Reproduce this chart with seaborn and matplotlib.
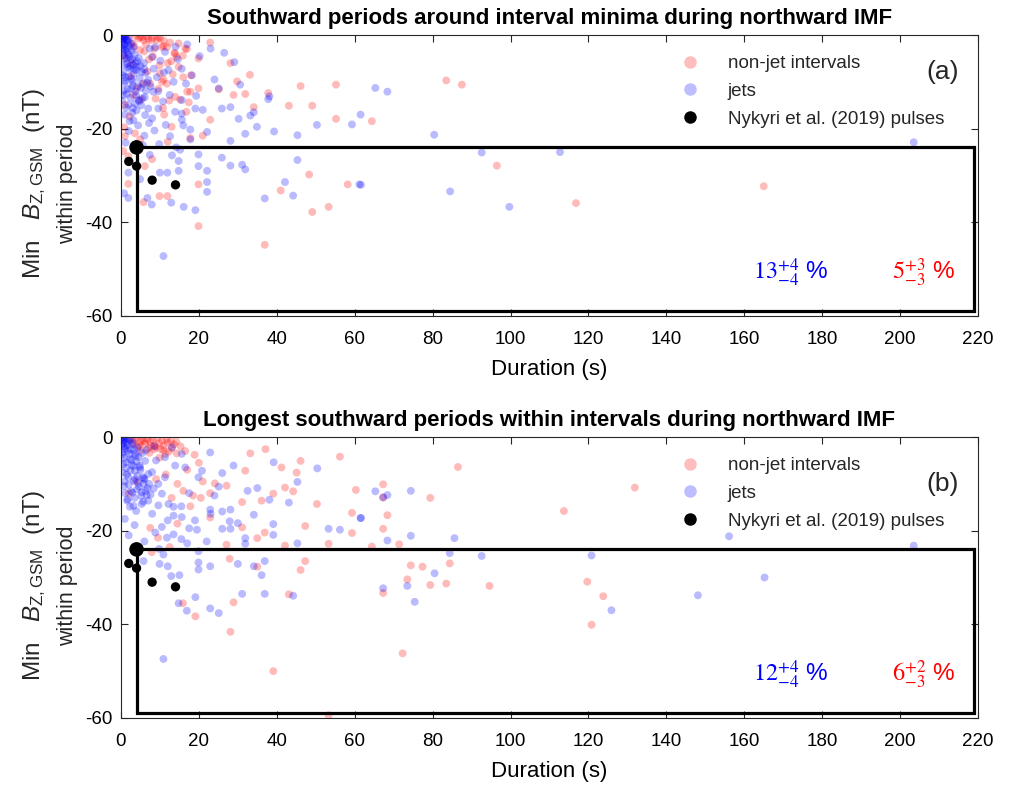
import matplotlib
matplotlib.use("Agg")
import matplotlib.pyplot as plt
from matplotlib.lines import Line2D
import numpy as np
import pandas as pd
import seaborn as sns

# ---------------------------------------------------------------- data
# Panel (a): southward periods around interval minima
a_jet_dur = [0.3, 0.6, 1.0, 1.3, 0.5, 1.8, 0.9, 2.2, 1.4, 0.4, 2.8, 1.9, 3.5, 0.8, 2.5, 4.2, 1.6, 3.1, 5.0, 5.9,
             2.3, 4.0, 0.6, 3.3, 6.3, 1.2, 2.7, 4.8, 7.0, 0.9, 3.0, 5.6, 1.7, 3.7, 6.4, 0.5, 2.4, 4.5, 3.6, 5.2,
             7.0, 1.3, 2.9, 8.0, 7.4, 9.2, 8.4, 10.1, 11.0, 12.2, 9.6, 8.8, 11.3, 13.5, 15.6, 18.2, 15.6, 13.9, 9.6, 8.0,
             6.2, 19.1, 23.0, 25.1, 12.5, 10.8, 14.6, 16.7, 4.4, 2.0, 6.0, 1.2, 3.2, 5.6, 8.6, 11.5, 12.6, 16.0, 14.2, 9.8,
             7.4, 29.1, 30.6, 37.8, 38.1, 34.1, 28.1, 25.9, 30.2, 34.9, 39.3, 45.3, 50.3, 59.3, 61.5, 31.9, 28.1, 22.1, 19.9, 22.1,
             22.1, 22.1, 28.1, 31.1, 31.9, 25.9, 45.3, 42.1, 44.2, 36.9, 61.2, 19.1, 16.1, 10.9, 12.9, 7.9, 6.8, 1.9, 0.8, 19.9,
             14.8, 11.9, 10.0, 4.9, 1.9, 14.8, 13.1, 15.2, 17.8, 17.8, 15.6, 15.6, 33.2, 21.0, 19.3, 24.0, 20.2, 17.0, 26.5, 14.0,
             65.3, 68.4, 80.4, 92.6, 112.7, 61.6, 84.5, 99.7, 203.5]
a_jet_min = [-0.2, -0.5, -0.3, -0.8, -1.2, -1.5, -2.0, -2.3, -3.0, -3.5, -3.3, -4.1, -4.2, -5.0, -5.4, -5.6, -6.1, -6.4, -6.6, -6.0,
             -7.2, -7.5, -8.0, -8.3, -8.1, -9.0, -9.4, -9.2, -9.6, -10.3, -10.8, -10.5, -11.6, -12.1, -11.9, -12.8, -13.4, -13.9, -14.6, -15.0,
             -15.7, -15.5, -16.6, -4.7, -2.9, -9.0, -7.2, -5.5, -8.0, -7.5, -12.0, -2.6, -3.6, -10.0, -7.2, -8.6, -13.9, -16.4, -15.7, -17.8,
             -17.1, -15.7, -2.9, -11.4, -12.8, -14.2, -5.2, -10.4, -19.3, -20.5, -21.5, -23.0, -18.2, -23.5, -20.4, -19.2, -21.6, -19.3, -24.0, -23.3,
             -25.6, -5.8, -10.6, -13.7, -13.1, -16.5, -15.4, -15.7, -17.9, -19.6, -20.6, -21.4, -19.2, -19.1, -17.0, -21.1, -22.6, -20.7, -25.5, -29.0,
             -31.4, -33.5, -27.9, -27.7, -28.7, -26.2, -26.7, -31.4, -34.3, -34.9, -31.9, -37.4, -36.7, -47.2, -35.8, -36.2, -34.8, -34.8, -33.8, -28.0,
             -29.0, -29.4, -29.4, -30.8, -29.4, -26.9, -25.7, -24.5, -22.3, -20.2, -18.1, -16.8, -17.2, -16.0, -13.0, -9.5, -4.5, -2.0, -3.8, -2.5,
             -11.3, -12.1, -21.3, -25.1, -25.0, -32.0, -33.4, -36.7, -22.9]
# short, weak jet periods crowding the origin
a_jet_dur_core = [0.2, 0.4, 0.7, 1.1, 1.5, 0.3, 0.8, 1.2, 2.0, 2.6, 0.5, 1.0, 1.7, 3.2, 2.1, 0.6, 1.4, 2.9, 3.8, 4.6,
                  0.9, 1.8, 2.4, 3.4, 4.1, 5.3, 6.0, 0.4, 1.1, 2.0, 3.0, 4.4, 5.1, 6.7, 7.6, 0.7, 1.5, 2.6, 3.9, 5.5,
                  0.3, 1.9, 3.1, 4.7, 6.1, 8.3, 1.0, 2.2, 4.0, 7.2]
a_jet_min_core = [-0.1, -0.6, -0.9, -0.4, -1.1, -1.6, -1.9, -2.4, -1.0, -1.8, -2.8, -3.2, -3.7, -2.6, -4.6, -4.3, -5.0, -5.1, -5.9, -4.9,
                  -6.4, -6.9, -6.6, -7.4, -6.8, -7.9, -7.3, -8.6, -9.8, -8.9, -9.9, -10.9, -11.3, -10.2, -11.0, -11.9, -12.6, -11.4, -12.9, -13.5,
                  -14.0, -14.9, -15.6, -14.1, -13.3, -12.1, -17.0, -18.4, -16.1, -18.8]

a_non_dur = [4.9, 7.0, 9.2, 10.5, 11.8, 13.9, 14.3, 16.5, 19.9, 10.5, 11.8, 9.6, 7.5, 17.0, 19.9, 13.9, 12.4, 5.8, 10.0, 4.5,
             13.7, 10.9, 10.0, 14.8, 15.2, 10.9, 4.9, 7.9, 1.0, 2.8, 5.8, 4.1, 1.0, 3.2, 0.6, 1.9, 4.9, 2.0, 3.0, 6.4,
             8.2, 12.0, 6.8, 8.9, 2.2, 0.8, 3.6, 11.1, 13.0, 12.0, 8.0, 6.1, 18.0, 16.0,
             22.9, 16.9, 28.1, 33.1, 29.8, 25.1, 28.9, 31.9, 37.8, 46.1, 55.2, 43.1, 49.1, 34.1, 22.9, 55.2, 64.4, 17.4, 17.8, 21.0,
             17.8, 48.3, 41.0, 58.2, 49.1, 53.3, 19.9, 19.9, 36.9, 9.9, 11.9, 5.8, 1.9, 1.0,
             83.5, 87.5, 96.5, 116.8, 165.0,
             3.8, 5.4, 6.6, 8.0, 9.5, 11.0, 12.6, 14.8, 6.0, 8.6, 12.9, 15.9, 3.4, 7.2, 9.9, 13.3, 2.5, 5.1, 10.8, 16.8]
a_non_min = [-0.4, -0.8, -1.1, -2.6, -2.6, -4.0, -4.7, -2.9, -5.0, -10.0, -10.4, -11.5, -10.4, -12.1, -11.4, -13.2, -14.0, -1.1, -0.7, -0.7,
             -3.8, -2.3, -8.2, -6.8, -13.8, -9.5, -3.2, -1.1, -4.6, -6.0, -10.3, -11.3, -14.9, -12.8, -24.8, -25.9, -22.3, -0.3, -1.8, -2.0,
             -4.6, -6.0, -7.8, -13.6, -17.4, -19.7, -21.0, -17.0, -19.6, -22.8, -26.5, -28.0, -8.6, -9.0,
             -1.6, -3.0, -6.0, -8.5, -9.9, -11.6, -12.8, -12.6, -12.4, -10.9, -10.6, -15.1, -15.1, -15.4, -18.1, -17.9, -18.4, -14.4, -12.1, -21.5,
             -22.0, -29.8, -33.2, -31.9, -37.8, -36.7, -31.9, -40.8, -44.8, -34.4, -34.4, -35.7, -31.8, -21.6,
             -9.7, -10.6, -27.9, -35.9, -32.3,
             -0.2, -0.5, -0.3, -0.6, -0.4, -1.2, -1.6, -1.8, -3.5, -2.9, -5.6, -4.4, -2.4, -5.2, -6.5, -8.4, -8.8, -13.8, -15.6, -16.4]

# Panel (b): longest southward periods within intervals
b_jet_dur = [0.3, 0.6, 1.9, 1.2, 2.8, 1.0, 0.4, 3.6, 2.3, 4.5, 6.2, 4.9, 3.6, 7.0, 5.8, 5.3, 8.0, 1.9, 2.8, 1.3,
             3.3, 4.3, 6.5, 5.6, 6.6, 2.6, 0.8, 1.6,
             11.3, 13.1, 15.6, 16.5, 13.9, 11.3, 9.6, 10.5, 12.2, 9.6, 7.0, 5.3, 3.2, 8.0, 20.8, 19.9, 23.0, 13.5, 15.6, 17.5, 9.0, 8.5,
             22.9, 50.4, 39.2, 28.9, 26.0, 25.1, 45.3, 35.0, 38.1, 43.1, 45.3, 39.1, 39.1, 31.9, 31.9, 34.1, 28.1, 26.0, 30.0, 27.9,
             28.1, 26.0, 22.9, 53.3, 56.2, 61.5, 36.9, 36.1, 34.1, 30.0, 36.9, 44.2, 31.1, 25.1, 22.9, 19.1, 16.9, 14.8, 10.9, 19.9,
             19.9, 22.9, 15.0, 12.9, 9.9, 5.8, 12.0, 10.9, 9.8, 19.9, 17.0, 15.5, 13.5, 11.8, 17.5, 19.5, 19.0, 15.5, 13.5, 12.0,
             10.5, 8.8, 6.0, 4.0, 2.0, 1.0, 3.5, 22.0, 24.0, 32.5,
             65.3, 68.4, 67.3, 74.4, 61.6, 68.4, 74.4, 85.6, 84.4, 92.6, 120.8, 80.5, 73.5, 67.3, 75.4, 125.9, 156.1, 203.5, 165.2, 148.1]
b_jet_min = [-0.3, -0.8, -0.4, -1.2, -1.5, -2.6, -3.3, -3.6, -4.7, -4.3, -5.1, -6.5, -7.2, -7.9, -10.0, -11.8, -7.5, -8.6, -6.0, -5.4,
             -9.4, -2.3, -2.8, -8.6, -12.4, -11.6, -10.5, -13.6,
             -4.3, -2.2, -3.6, -6.5, -6.1, -8.6, -10.0, -12.1, -14.3, -14.6, -13.6, -14.3, -14.7, -16.4, -7.2, -8.6, -16.4, -16.8, -17.1, -12.0, -5.0, -2.0,
             -3.3, -6.7, -5.4, -6.1, -7.7, -10.6, -9.6, -10.9, -13.4, -14.0, -22.7, -18.6, -20.9, -21.6, -22.8, -16.6, -15.5, -15.9, -18.4, -18.0,
             -19.6, -19.6, -15.5, -19.6, -19.8, -17.3, -26.5, -29.5, -27.6, -27.1, -33.5, -33.9, -33.5, -37.6, -36.6, -34.2, -37.1, -35.5, -47.4, -28.3,
             -26.8, -27.6, -29.5, -29.7, -27.1, -26.5, -27.6, -25.1, -23.9, -24.4, -22.7, -21.8, -20.8, -21.5, -19.5, -19.8, -17.8, -14.8, -14.9, -17.8,
             -19.2, -20.4, -22.3, -24.5, -21.0, -17.5, -18.8, -22.3, -12.5, -11.5,
             -11.6, -12.4, -12.9, -11.5, -17.3, -22.1, -21.1, -21.6, -24.8, -25.4, -25.3, -29.1, -31.8, -32.3, -35.2, -37.0, -21.2, -23.2, -30.0, -33.8]
b_jet_dur_core = [0.2, 0.5, 0.9, 1.4, 2.1, 0.3, 0.7, 1.1, 1.6, 2.5, 3.0, 0.4, 0.8, 1.8, 2.2, 3.4, 4.0, 0.6, 1.3, 2.7,
                  3.8, 4.8, 5.5, 0.5, 1.5, 2.4, 3.2, 4.2, 5.0, 6.0, 0.9, 2.0, 3.6, 4.6, 5.9, 7.2, 1.1, 2.9, 4.1, 5.2,
                  6.8, 7.6, 1.7, 3.5, 4.4, 6.3, 2.3, 3.9, 5.7, 8.4]
b_jet_min_core = [-0.1, -0.2, -0.6, -0.3, -0.7, -1.5, -1.9, -2.2, -1.7, -2.6, -1.1, -3.8, -4.4, -3.0, -3.6, -2.7, -5.2, -5.8, -6.6, -4.9,
                  -4.0, -6.1, -3.4, -7.6, -8.0, -7.2, -6.2, -8.3, -7.0, -9.1, -9.5, -10.2, -9.0, -10.6, -8.8, -10.0, -12.0, -11.9, -11.2, -12.6,
                  -10.9, -12.3, -13.3, -13.0, -9.8, -11.5, -14.9, -15.8, -13.8, -11.0]

b_non_dur = [3.5, 5.0, 6.2, 7.5, 8.7, 9.8, 11.0, 12.0, 7.0, 4.4, 10.2, 13.0,
             37.1, 33.2, 46.1, 41.2, 45.1, 31.9, 44.2, 42.1, 39.1, 36.1, 31.1, 27.1, 24.1, 22.9, 21.0, 22.9, 31.1, 36.9,
             35.0, 27.1, 42.1, 47.3, 50.3, 53.3, 56.2, 60.3, 59.3, 59.3, 18.9, 19.1, 28.1, 39.1, 28.9, 43.1, 47.3, 46.1, 35.0, 27.9,
             15.9, 7.9, 7.5,
             14.3, 16.5, 20.0, 17.0, 14.5, 16.0, 18.5, 20.5, 17.8, 11.5, 9.0, 13.0, 9.5, 12.5, 14.5, 4.0, 2.0,
             86.5, 67.3, 67.3, 79.4, 68.4, 67.3, 64.4, 71.4, 113.7, 131.9, 74.4, 77.4, 84.4, 73.5, 79.4, 83.5, 94.6, 67.3, 72.3, 119.7,
             123.8, 120.8, 53.3,
             2.6, 4.0, 5.5, 6.8, 8.1, 9.3, 10.6, 11.7, 12.8, 13.6, 3.1, 4.8, 6.0, 7.7, 9.0, 10.9, 12.3, 5.2, 7.3, 8.5,
             11.4, 14.2, 15.3, 9.9]
b_non_min = [-0.6, -1.0, -1.4, -1.0, -1.8, -1.3, -1.9, -1.2, -2.4, -2.0, -2.6, -2.4,
             -2.6, -3.5, -5.1, -6.5, -7.6, -7.2, -11.6, -10.8, -12.1, -13.6, -13.9, -10.4, -9.9, -12.0, -9.5, -17.2, -19.3, -20.4,
             -21.6, -23.0, -23.2, -19.0, -14.3, -22.8, -4.2, -11.3, -16.2, -20.5, -3.8, -38.3, -41.6, -50.0, -35.3, -33.6, -26.5, -28.4, -27.7, -26.0,
             -35.5, -24.6, -19.4,
             -3.5, -3.0, -5.5, -7.0, -10.0, -11.5, -12.5, -13.0, -14.8, -8.0, -9.0, -13.0, -21.5, -23.5, -18.5, -9.5, -12.0,
             -6.4, -10.1, -12.9, -13.0, -16.7, -19.6, -23.4, -22.9, -15.8, -10.8, -27.4, -27.7, -27.0, -30.4, -31.6, -31.3, -31.8, -33.3, -46.2, -30.9,
             -34.0, -40.1, -59.4,
             -0.3, -0.2, -0.5, -0.4, -0.6, -0.3, -0.8, -0.5, -0.9, -1.6, -1.5, -1.8, -0.9, -1.9, -2.2, -2.8, -3.1, -2.9, -3.4, -2.6,
             -3.6, -1.0, -2.0, -4.4]

# Nykyri et al. (2019) pulses (same in both panels)
nyk_dur = [4, 2, 4, 8, 14]
nyk_min = [-24, -27, -28, -31, -32]
nyk_size = [110, 45, 45, 45, 45]

# Threshold box: duration >= 4 s and Bz <= -24 nT
box_dur = [4, 219]
box_min = [-24, -59]

titles = ["Southward periods around interval minima during northward IMF",
          "Longest southward periods within intervals during northward IMF"]
panel_tags = ["(a)", "(b)"]
jet_pct = [r"$13^{+4}_{-4}$ %", r"$12^{+4}_{-4}$ %"]
non_pct = [r"$5^{+3}_{-3}$ %", r"$6^{+2}_{-3}$ %"]
x_ticks = list(range(0, 221, 20))
y_ticks = [0, -20, -40, -60]

# ---------------------------------------------------------------- style
sns.set_theme(style="ticks")
plt.rcParams["font.family"] = ["Liberation Sans", "DejaVu Sans"]
plt.rcParams["mathtext.fontset"] = "custom"
plt.rcParams["mathtext.rm"] = "Liberation Sans"
plt.rcParams["mathtext.it"] = "Liberation Sans:italic"
plt.rcParams["axes.edgecolor"] = "#262626"
plt.rcParams["axes.linewidth"] = 0.8

RED = (1.0, 0.0, 0.0)
BLUE = (0.0, 0.0, 1.0)
ALPHA = 0.27
PT_SIZE = 32

fig = plt.figure(figsize=(10.14, 7.85), dpi=100)
ax_a = fig.add_axes([0.1193, 0.5975, 0.8452, 0.3579])
ax_b = fig.add_axes([0.1193, 0.0854, 0.8452, 0.3579])

panels = [
    (ax_a, a_non_dur, a_non_min, a_jet_dur + a_jet_dur_core, a_jet_min + a_jet_min_core),
    (ax_b, b_non_dur, b_non_min, b_jet_dur + b_jet_dur_core, b_jet_min + b_jet_min_core),
]

for i, (ax, nd, nm, jd, jm) in enumerate(panels):
    non_df = pd.DataFrame({"dur": nd, "bz": nm})
    jet_df = pd.DataFrame({"dur": jd, "bz": jm})
    nyk_df = pd.DataFrame({"dur": nyk_dur, "bz": nyk_min, "sz": nyk_size})

    sns.scatterplot(data=non_df, x="dur", y="bz", ax=ax, color=RED, alpha=ALPHA,
                    s=PT_SIZE, edgecolor="none", linewidth=0, zorder=2)
    sns.scatterplot(data=jet_df, x="dur", y="bz", ax=ax, color=BLUE, alpha=ALPHA,
                    s=PT_SIZE, edgecolor="none", linewidth=0, zorder=2)

    # threshold box
    ax.plot([box_dur[0], box_dur[1], box_dur[1], box_dur[0], box_dur[0]],
            [box_min[0], box_min[0], box_min[1], box_min[1], box_min[0]],
            color="black", lw=2.3, zorder=3, solid_joinstyle="miter")

    ax.scatter(nyk_df["dur"], nyk_df["bz"], s=nyk_df["sz"], color="black",
               edgecolor="none", zorder=4)

    ax.set_xlim(0, 220)
    ax.set_ylim(-60, 0)
    ax.set_xticks(x_ticks)
    ax.set_yticks(y_ticks)
    ax.set_yticklabels([str(t) for t in y_ticks])
    ax.tick_params(direction="in", top=True, right=True, length=5, width=0.8,
                   labelsize=13.5, colors="#262626", labelcolor="black", pad=6)
    ax.tick_params(axis="x", pad=11)
    for sp in ax.spines.values():
        sp.set_visible(True)
        sp.set_color("#262626")

    ax.set_xlabel("Duration (s)", fontsize=16, labelpad=8, color="black")
    ax.set_ylabel("")
    ax.text(-0.101, 0.47, "Min   $\\mathit{B}_{\\mathrm{Z,GSM}}$  (nT)",
            transform=ax.transAxes, rotation=90, fontsize=17.5,
            ha="center", va="center")
    ax.text(-0.062, 0.47, "within period", transform=ax.transAxes,
            rotation=90, fontsize=15.5, ha="center", va="center")
    ax.set_title(titles[i], fontsize=16, fontweight="bold", pad=8, color="black")

    handles = [
        Line2D([], [], ls="none", marker="o", markersize=9, markeredgewidth=0,
               markerfacecolor=(1.0, 0.74, 0.74), label="non-jet intervals"),
        Line2D([], [], ls="none", marker="o", markersize=9, markeredgewidth=0,
               markerfacecolor=(0.74, 0.74, 1.0), label="jets"),
        Line2D([], [], ls="none", marker="o", markersize=9, markeredgewidth=0,
               markerfacecolor="black", label="Nykyri et al. (2019) pulses"),
    ]
    ax.legend(handles=handles, loc="upper left", bbox_to_anchor=(0.638, 0.975),
              frameon=False, fontsize=13.5, handlelength=1.0, handletextpad=1.5,
              labelspacing=0.56, borderpad=0.2)

    ax.text(211, -8.0 if i == 0 else -10.0, panel_tags[i], fontsize=19,
            ha="center", va="center")
    ax.text(172, -50.8, jet_pct[i], color=BLUE, fontsize=17.5, ha="center",
            va="center", math_fontfamily="stix")
    ax.text(206, -50.8, non_pct[i], color=RED, fontsize=17.5, ha="center",
            va="center", math_fontfamily="stix")

fig.savefig("out.png", dpi=100)
